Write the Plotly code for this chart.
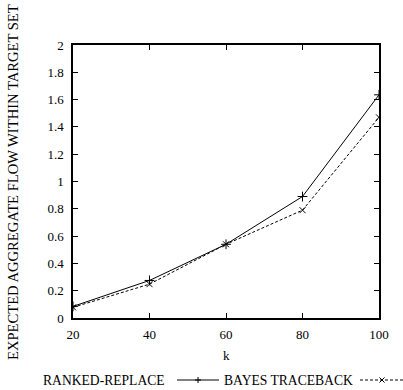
import plotly.graph_objects as go

# Data
k_values = [20, 40, 60, 80, 100]
ranked_replace = [0.085, 0.275, 0.54, 0.89, 1.635]
bayes_traceback = [0.078, 0.248, 0.54, 0.79, 1.47]
y_ticks = [0, 0.2, 0.4, 0.6, 0.8, 1, 1.2, 1.4, 1.6, 1.8, 2]
y_tick_text = ["0", "0.2", "0.4", "0.6", "0.8", "1", "1.2", "1.4", "1.6", "1.8", "2"]

W, H = 403, 390
L, R, T, B = 73, 24, 45, 72
FONT = "Liberation Serif"


def px(xp, yp):
    """Convert pixel position to paper coordinates."""
    return (xp - L) / (W - L - R), (H - B - yp) / (H - T - B)


fig = go.Figure()
fig.add_trace(go.Scatter(
    x=k_values, y=ranked_replace, mode="lines+markers", name="RANKED-REPLACE",
    line=dict(color="black", width=1),
    marker=dict(symbol="cross-thin", size=7, line=dict(color="black", width=1)),
))
fig.add_trace(go.Scatter(
    x=k_values, y=bayes_traceback, mode="lines+markers", name="BAYES TRACEBACK",
    line=dict(color="black", width=1, dash="3px,2px"),
    marker=dict(symbol="x-thin", size=6, line=dict(color="black", width=1)),
))

axis_common = dict(
    showgrid=False, zeroline=False, showline=True, mirror="allticks",
    linecolor="black", linewidth=1.5, ticks="inside", ticklen=5,
    tickcolor="black", tickwidth=1,
    tickfont=dict(family=FONT, size=13, color="black"),
)
fig.update_xaxes(range=[20, 100], tickvals=k_values, ticklabelstandoff=4, **axis_common)
fig.update_yaxes(range=[0, 2], tickvals=y_ticks, ticktext=y_tick_text,
                 ticklabelstandoff=5, **axis_common)

annotations = []
shapes = []

# Axis titles
ax, ay = px(13, 182)
annotations.append(dict(x=ax, y=ay, xref="paper", yref="paper", textangle=-90,
                        xanchor="center", yanchor="middle",
                        text="EXPECTED AGGREGATE FLOW WITHIN TARGET SET",
                        showarrow=False, font=dict(family=FONT, size=14.6, color="black")))
kx, ky = px(226, 355)
annotations.append(dict(x=kx, y=ky, xref="paper", yref="paper", text="k",
                        xanchor="center", yanchor="middle",
                        showarrow=False, font=dict(family=FONT, size=13, color="black")))

# Legend drawn as text followed by a line sample
leg_y = 380
for label, x_text_end, x0, x1, dash, sym in [
    ("RANKED-REPLACE", 167, 177, 219, "solid", "+"),
    ("BAYES TRACEBACK", 355, 360, 403, "3px,2px", "x"),
]:
    tx, ty = px(x_text_end, leg_y)
    annotations.append(dict(x=tx, y=ty, xref="paper", yref="paper", text=label,
                            xanchor="right", yanchor="middle", showarrow=False,
                            font=dict(family=FONT, size=13.6, color="black")))
    sx0, sy = px(x0, leg_y)
    sx1, _ = px(x1, leg_y)
    shapes.append(dict(type="line", xref="paper", yref="paper", x0=sx0, x1=sx1,
                       y0=sy, y1=sy, line=dict(color="black", width=1, dash=dash)))
    cx = x0 + 21 if sym == "+" else x0 + 22
    if sym == "+":
        segs = [((cx - 3, leg_y), (cx + 3, leg_y)), ((cx, leg_y - 3), (cx, leg_y + 3))]
    else:
        segs = [((cx - 2.5, leg_y - 2.5), (cx + 2.5, leg_y + 2.5)),
                ((cx - 2.5, leg_y + 2.5), (cx + 2.5, leg_y - 2.5))]
    for (a, b) in segs:
        p0 = px(*a)
        p1 = px(*b)
        shapes.append(dict(type="line", xref="paper", yref="paper",
                           x0=p0[0], y0=p0[1], x1=p1[0], y1=p1[1],
                           line=dict(color="black", width=1)))

fig.update_layout(
    width=W, height=H, margin=dict(l=L, r=R, t=T, b=B),
    paper_bgcolor="white", plot_bgcolor="white", showlegend=False,
    annotations=annotations, shapes=shapes,
    font=dict(family=FONT, color="black"),
)

fig.write_html("out.html")
